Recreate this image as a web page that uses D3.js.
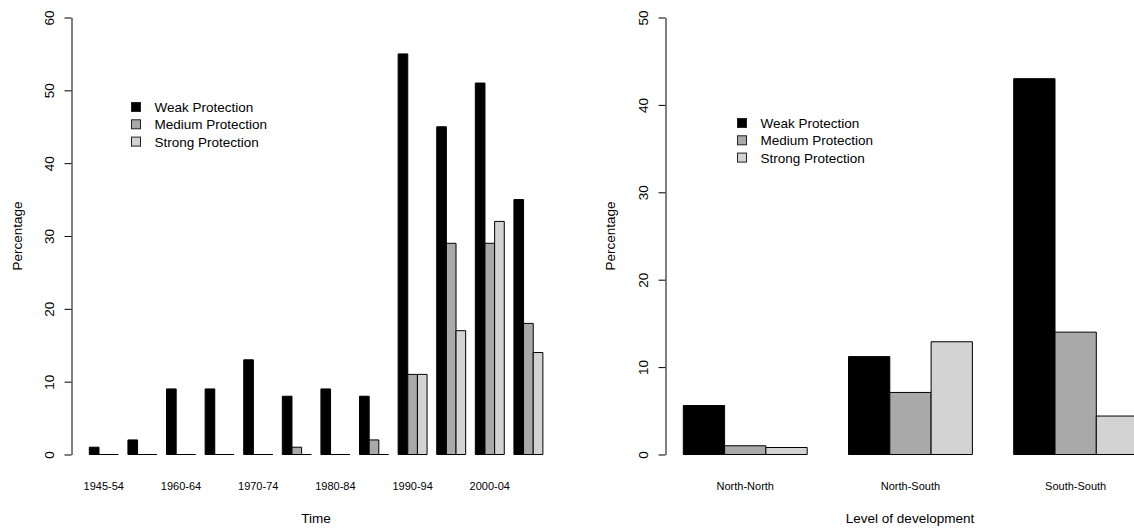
<!DOCTYPE html>
<html>
<head>
<meta charset="utf-8">
<script src="https://cdn.jsdelivr.net/npm/d3@7"></script>
<style>
  html, body { margin: 0; padding: 0; background: #fff; }
  svg { display: block; font-family: "Liberation Sans", Arial, Helvetica, sans-serif; }
</style>
</head>
<body>
<svg id="chart" width="1134" height="528"></svg>
<script>
// ---------- data ----------
const series = ["Weak Protection", "Medium Protection", "Strong Protection"];
const seriesColors = ["#000000", "#a9a9a9", "#d3d3d3"];

const timeCategories = ["1945-54","1955-59","1960-64","1965-69","1970-74","1975-79",
                        "1980-84","1985-89","1990-94","1995-99","2000-04","2005-09"];
const timeWeak   = [1, 2, 9, 9, 13, 8, 9, 8, 55, 45, 51, 35];
const timeMedium = [0, 0, 0, 0, 0, 1, 0, 2, 11, 29, 29, 18];
const timeStrong = [0, 0, 0, 0, 0, 0, 0, 0, 11, 17, 32, 14];
const timeTicks  = [0, 10, 20, 30, 40, 50, 60];

const devCategories = ["North-North", "North-South", "South-South"];
const devWeak   = [5.6, 11.2, 43.0];
const devMedium = [1.0, 7.1, 14.0];
const devStrong = [0.8, 12.9, 4.4];
const devTicks  = [0, 10, 20, 30, 40, 50];

const svg = d3.select("#chart");

function drawPanel(cfg) {
  const g = svg.append("g");
  const x = d3.scaleBand().domain(cfg.categories).range(cfg.xRange)
    .paddingInner(0.25).paddingOuter(0.125);
  const xs = d3.scaleBand().domain(series).range([0, x.bandwidth()]).padding(0);
  const y = d3.scaleLinear().domain([0, cfg.yMax]).range([454.5, 17.5]);

  const values = [cfg.weak, cfg.medium, cfg.strong];
  const rows = [];
  cfg.categories.forEach((c, i) => {
    series.forEach((s, j) => rows.push({ c, s, j, v: values[j][i] }));
  });

  // bars drawn as closed paths so that zero-height bars still show as a line
  g.selectAll("path.bar").data(rows).join("path")
    .attr("class", "bar")
    .attr("d", d => {
      const x0 = x(d.c) + xs(d.s), x1 = x0 + xs.bandwidth();
      const y0 = y(0), y1 = y(d.v);
      return `M${x0},${y0}H${x1}V${y1}H${x0}Z`;
    })
    .attr("fill", d => seriesColors[d.j])
    .attr("stroke", "#000")
    .attr("stroke-width", 1);

  // y axis
  const ya = g.append("g").attr("transform", `translate(${cfg.axisX},0)`)
    .call(d3.axisLeft(y).tickValues(cfg.ticks).tickSize(7).tickSizeOuter(0).tickFormat(d3.format("d")));
  ya.select(".domain").attr("stroke", "#000");
  ya.selectAll(".tick line").attr("stroke", "#000");
  ya.selectAll(".tick text")
    .attr("x", null).attr("dy", null)
    .attr("transform", "translate(-22.5,0) rotate(-90)")
    .attr("text-anchor", "middle")
    .attr("dominant-baseline", "central")
    .attr("fill", "#000")
    .style("font-size", "13.5px")
    .style("font-family", "Liberation Sans, Arial, sans-serif");

  // x category labels (no axis line)
  const xa = g.append("g").attr("transform", `translate(0,${y(0)})`)
    .call(d3.axisBottom(x).tickSize(0).tickValues(cfg.categories.filter(cfg.labelFilter)));
  xa.select(".domain").remove();
  xa.selectAll(".tick text")
    .attr("y", 31).attr("dy", null)
    .attr("dominant-baseline", "central")
    .attr("fill", "#000")
    .style("font-size", "11px")
    .style("font-family", "Liberation Sans, Arial, sans-serif");

  // axis titles
  g.append("text")
    .attr("transform", `translate(${cfg.yTitleX},236) rotate(-90)`)
    .attr("text-anchor", "middle").attr("dominant-baseline", "central")
    .style("font-size", "13.5px").text("Percentage");
  g.append("text")
    .attr("x", cfg.xTitleX).attr("y", 518)
    .attr("text-anchor", "middle").attr("dominant-baseline", "central")
    .style("font-size", "13.5px").text(cfg.xTitle);

  // legend
  const leg = g.append("g");
  series.forEach((s, j) => {
    const cy = cfg.legendY + j * 17.3;
    leg.append("rect")
      .attr("x", cfg.legendX).attr("y", cy - 4.5)
      .attr("width", 9).attr("height", 9)
      .attr("fill", seriesColors[j]).attr("stroke", "#222").attr("stroke-width", 1);
    leg.append("text")
      .attr("x", cfg.legendX + 23).attr("y", cy + 0.5)
      .attr("dominant-baseline", "central")
      .style("font-size", "13.5px").attr("fill", "#000").text(s);
  });
}

drawPanel({
  categories: timeCategories, weak: timeWeak, medium: timeMedium, strong: timeStrong,
  yMax: 60, ticks: timeTicks, xRange: [84.5, 547.7], axisX: 71.5,
  labelFilter: (d, i) => i % 2 === 0,
  yTitleX: 17, xTitleX: 316, xTitle: "Time",
  legendX: 131.5, legendY: 107
});

drawPanel({
  categories: devCategories, weak: devWeak, medium: devMedium, strong: devStrong,
  yMax: 50, ticks: devTicks, xRange: [662.65, 1158.25], axisX: 665.5,
  labelFilter: () => true,
  yTitleX: 610, xTitleX: 910, xTitle: "Level of development",
  legendX: 737.5, legendY: 123
});
</script>
</body>
</html>
